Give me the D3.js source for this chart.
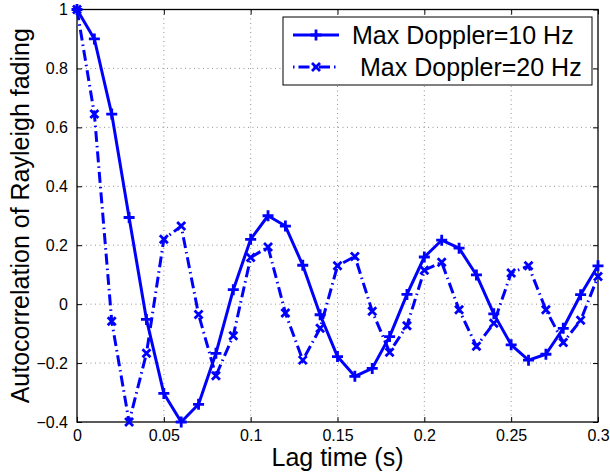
<!DOCTYPE html>
<html><head><meta charset="utf-8">
<script src="https://cdn.jsdelivr.net/npm/d3@7/dist/d3.min.js"></script>
<style>body{margin:0;background:#fff}svg{display:block}text{font-family:"Liberation Sans",Arial,Helvetica,sans-serif}</style>
</head><body>
<svg id="c" width="610" height="472"></svg>
<script>
const lag = [0,0.01,0.02,0.03,0.04,0.05,0.06,0.07,0.08,0.09,0.10,0.11,0.12,0.13,0.14,0.15,0.16,0.17,0.18,0.19,0.20,0.21,0.22,0.23,0.24,0.25,0.26,0.27,0.28,0.29,0.30];
const fd10 = [1.00,0.90,0.645,0.294,-0.052,-0.303,-0.40,-0.34,-0.167,0.049,0.22,0.30,0.265,0.132,-0.036,-0.178,-0.245,-0.218,-0.11,0.033,0.16,0.217,0.19,0.099,-0.033,-0.138,-0.19,-0.17,-0.082,0.032,0.13];
const fd20 = [1.00,0.645,-0.058,-0.40,-0.167,0.22,0.265,-0.035,-0.243,-0.107,0.158,0.194,-0.03,-0.19,-0.082,0.13,0.162,-0.024,-0.163,-0.073,0.115,0.142,-0.019,-0.143,-0.065,0.106,0.13,-0.019,-0.13,-0.055,0.094];
const seriesNames = ["Max Doppler=10 Hz","Max Doppler=20 Hz"];
const xTicks = [0,0.05,0.1,0.15,0.2,0.25,0.3];
const xTickLabels = ["0","0.05","0.1","0.15","0.2","0.25","0.3"];
const yTicks = [-0.4,-0.2,0,0.2,0.4,0.6,0.8,1];
const yTickLabels = ["\u22120.4","\u22120.2","0","0.2","0.4","0.6","0.8","1"];
const xLabel = "Lag time (s)";
const yLabel = "Autocorrelation of Rayleigh fading";

const L=77,R=598,T=9.5,B=422;
const svg=d3.select("#c");
const x=d3.scaleLinear().domain([0,0.3]).range([L,R]);
const y=d3.scaleLinear().domain([-0.4,1]).range([B,T]);
const blue="#0000ff";

// grid
const g=svg.append("g");
g.selectAll(".gx").data(xTicks.slice(1,-1)).join("line")
 .attr("x1",d=>x(d)).attr("x2",d=>x(d)).attr("y1",T).attr("y2",B)
 .attr("stroke","#777").attr("stroke-width",0.8).attr("stroke-dasharray","1,3.5");
g.selectAll(".gy").data(yTicks.slice(1,-1)).join("line")
 .attr("y1",d=>y(d)).attr("y2",d=>y(d)).attr("x1",L).attr("x2",R)
 .attr("stroke","#777").attr("stroke-width",0.8).attr("stroke-dasharray","1,3.5");

// axes (ticks inside, all sides)
const ax=svg.append("g");
const xb=d3.axisBottom(x).tickValues(xTicks).tickSize(-5).tickPadding(8).tickFormat((d,i)=>xTickLabels[i]);
const yl=d3.axisLeft(y).tickValues(yTicks).tickSize(-5).tickPadding(9).tickFormat((d,i)=>yTickLabels[i]);
const xt=d3.axisTop(x).tickValues(xTicks).tickSize(-5).tickFormat("");
const yr=d3.axisRight(y).tickValues(yTicks).tickSize(-5).tickFormat("");
function style(sel){sel.select(".domain").remove();sel.selectAll("line").attr("stroke","#000").attr("stroke-width",1);sel.selectAll("text").attr("font-size",16).attr("fill","#000").attr("font-family","Liberation Sans, Arial, sans-serif");}
ax.append("g").attr("transform",`translate(0,${B})`).call(xb).call(style);
ax.append("g").attr("transform",`translate(${L},0)`).call(yl).call(style);
ax.append("g").attr("transform",`translate(0,${T})`).call(xt).call(style);
ax.append("g").attr("transform",`translate(${R},0)`).call(yr).call(style);
svg.append("rect").attr("x",L).attr("y",T).attr("width",R-L).attr("height",B-T).attr("fill","none").attr("stroke","#000").attr("stroke-width",1.3);

// lines
const line=d3.line().x((d,i)=>x(lag[i])).y(d=>y(d));
svg.append("path").datum(fd20).attr("d",line).attr("fill","none").attr("stroke",blue).attr("stroke-width",3).attr("stroke-dasharray","11,4,1.5,4");
svg.append("path").datum(fd10).attr("d",line).attr("fill","none").attr("stroke",blue).attr("stroke-width",3).attr("stroke-linejoin","round");

function plus(sel,s){sel.append("path").attr("d",`M${-s},0H${s}M0,${-s}V${s}`).attr("stroke",blue).attr("stroke-width",2.8).attr("fill","none");}
function cross(sel,s){sel.append("path").attr("d",`M${-s},${-s}L${s},${s}M${-s},${s}L${s},${-s}`).attr("stroke",blue).attr("stroke-width",2.8).attr("fill","none");}
svg.append("g").selectAll("g").data(fd20).join("g").attr("transform",(d,i)=>`translate(${x(lag[i])},${y(d)})`).each(function(){cross(d3.select(this),4);});
svg.append("g").selectAll("g").data(fd10).join("g").attr("transform",(d,i)=>`translate(${x(lag[i])},${y(d)})`).each(function(){plus(d3.select(this),5.5);});

// labels
svg.append("text").attr("x",(L+R)/2).attr("y",466).attr("text-anchor","middle").attr("font-size",25).text(xLabel);
svg.append("text").attr("transform",`translate(29,${(T+B)/2}) rotate(-90)`).attr("text-anchor","middle").attr("font-size",25).text(yLabel);

// legend
const lg=svg.append("g");
lg.append("rect").attr("x",283).attr("y",17).attr("width",309).attr("height",68).attr("fill","#fff").attr("stroke","#000").attr("stroke-width",1);
lg.append("line").attr("x1",293).attr("x2",339).attr("y1",35).attr("y2",35).attr("stroke",blue).attr("stroke-width",3);
plus(lg.append("g").attr("transform","translate(316,35)"),5.5);
lg.append("line").attr("x1",293).attr("x2",339).attr("y1",67).attr("y2",67).attr("stroke",blue).attr("stroke-width",3).attr("stroke-dasharray","1.5,4,11,4");
cross(lg.append("g").attr("transform","translate(316,67)"),4);
lg.append("text").attr("x",352).attr("y",44).attr("font-size",25).text(seriesNames[0]);
lg.append("text").attr("x",360).attr("y",76).attr("font-size",25).text(seriesNames[1]);
</script>
</body></html>
